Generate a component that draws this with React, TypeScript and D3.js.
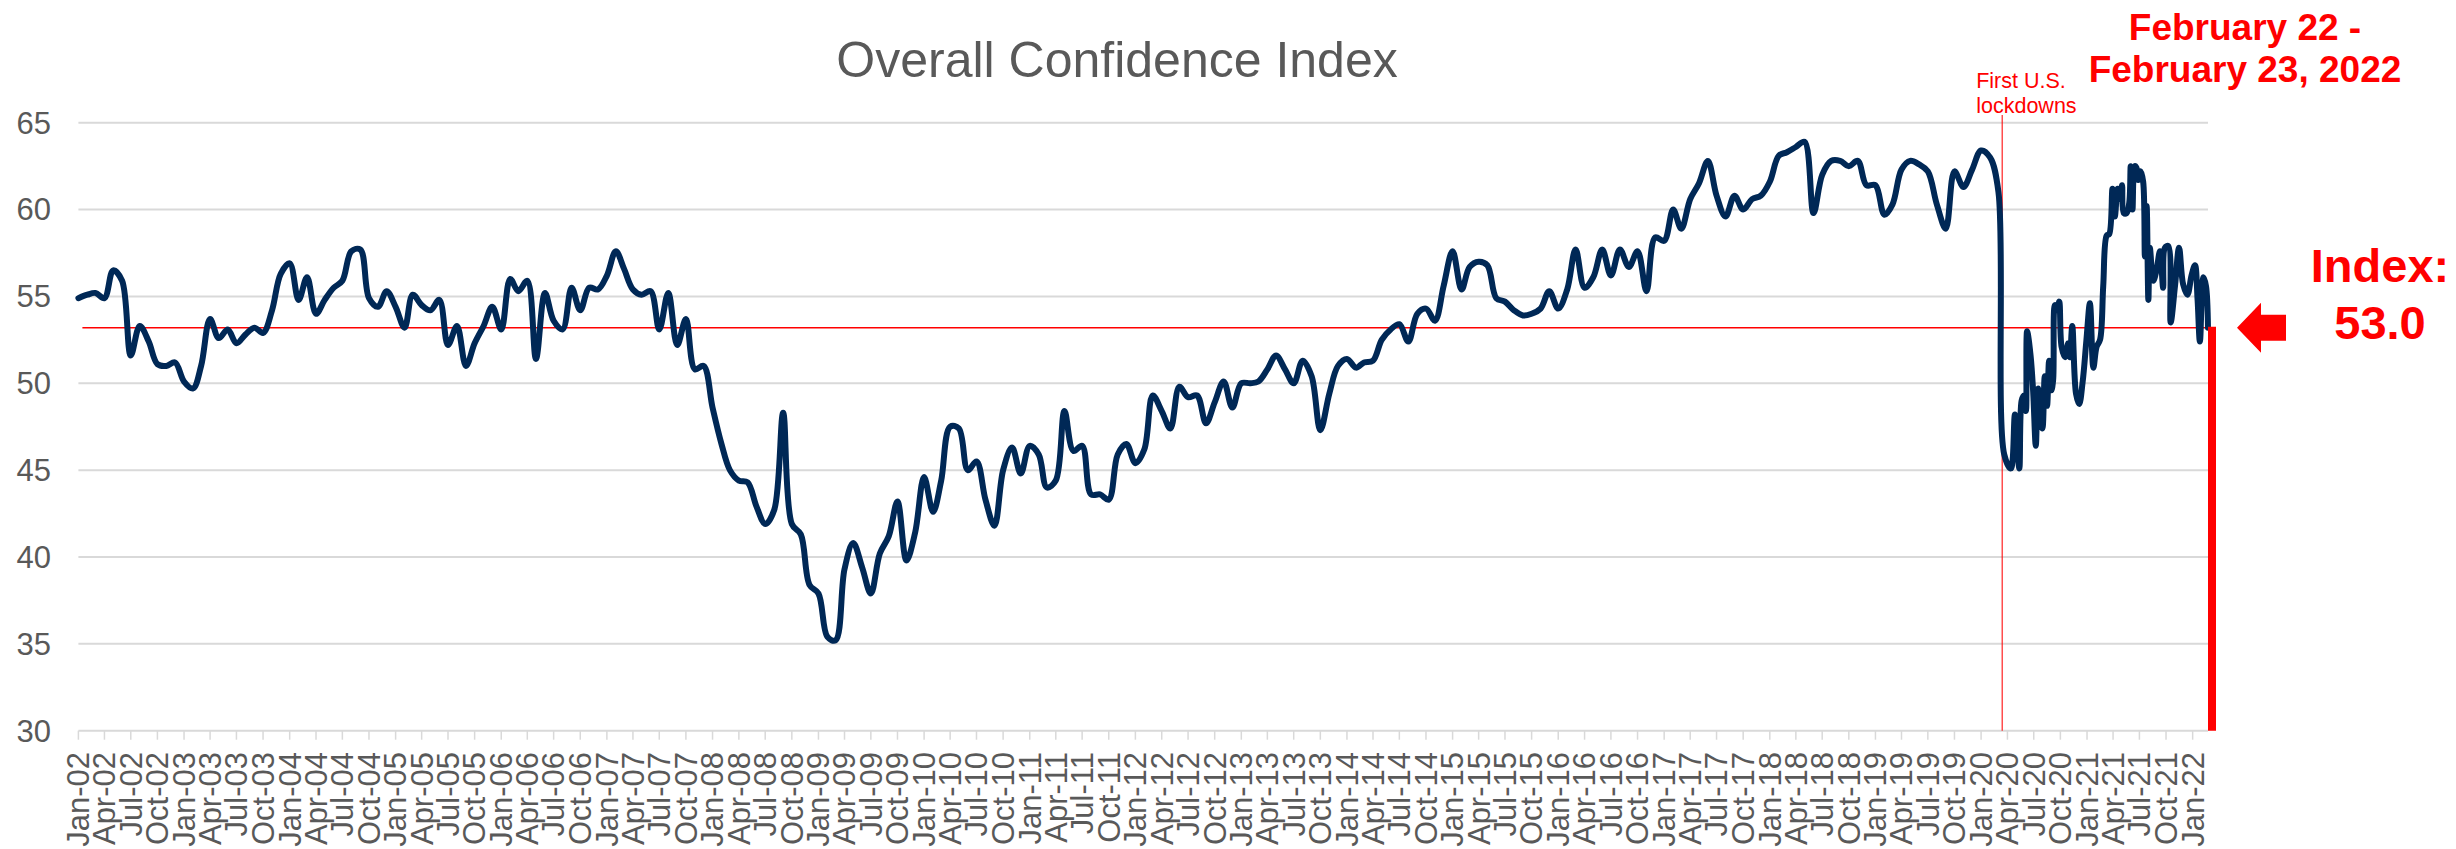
import React from "react";
import * as d3 from "d3";

// monthly index readings, Jan 2002 .. Mar 2020
const monthlyValues = [
  54.9, 55.1, 55.2, 54.9, 56.5, 55.9, 51.6, 53.3, 52.4, 51.1, 51.0, 51.2,
  50.1, 49.7, 51.0, 53.7, 52.6, 53.1, 52.3, 52.8, 53.2, 52.9, 54.2, 56.3,
  56.9, 54.8, 56.1, 54.0, 54.8, 55.5, 55.9, 57.6, 57.7, 54.9, 54.4, 55.3,
  54.4, 53.2, 55.1, 54.5, 54.2, 54.8, 52.2, 53.3, 51.0, 52.3, 53.3, 54.4,
  53.1, 56.0, 55.3, 55.9, 51.4, 55.2, 53.6, 53.1, 55.5, 54.2, 55.5, 55.4,
  56.2, 57.6, 56.6, 55.4, 55.1, 55.3, 53.1, 55.2, 52.2, 53.7, 50.8, 51.0,
  48.6, 46.5, 45.0, 44.4, 44.3, 42.9, 41.9, 42.7, 48.3, 41.9, 41.3, 38.4,
  37.9, 35.4, 35.2, 39.3, 40.8, 39.4, 37.9, 40.2, 41.2, 43.2, 39.8, 41.4,
  44.6, 42.6, 44.4, 47.5, 47.4, 45.0, 45.5, 43.3, 41.8, 45.0, 46.3, 44.8,
  46.4, 45.9, 44.0, 44.4, 48.4, 46.1, 46.4, 43.6, 43.6, 43.3, 45.9, 46.5,
  45.4, 46.2, 49.3, 48.4, 47.4, 49.8, 49.2, 49.3, 47.7, 48.9, 50.1, 48.6,
  50.0, 50.0, 50.1, 50.8, 51.6, 50.8, 50.0, 51.3, 50.4, 47.3, 49.4, 51.0,
  51.4, 50.9, 51.2, 51.3, 52.5, 53.1, 53.4, 52.4, 54.0, 54.3, 53.6, 55.6,
  57.6, 55.4, 56.7, 57.0, 56.8, 54.9, 54.7, 54.2, 53.9, 54.0, 54.3, 55.3,
  54.3, 55.4, 57.7, 55.5, 56.1, 57.7, 56.2, 57.7, 56.7, 57.6, 55.3, 58.4,
  58.2, 60.0, 58.9, 60.6, 61.5, 62.8, 60.8, 59.6, 60.8, 60.0, 60.6, 60.8,
  61.6, 63.1, 63.3, 63.6, 63.9, 59.8, 62.0, 62.8, 62.8, 62.5, 62.8, 61.4,
  61.4, 59.7, 60.3, 62.3, 62.8, 62.6, 62.2, 60.3, 58.9, 62.2, 61.3, 62.3,
  63.4, 63.0, 61.0,
];

// higher frequency readings after the first lockdowns
const weeklyDates = [
  "2020-03-21", "2020-04-13", "2020-04-27", "2020-05-12", "2020-05-20", "2020-05-28",
  "2020-06-04", "2020-06-08", "2020-06-20", "2020-06-29", "2020-07-08", "2020-07-16",
  "2020-07-31", "2020-08-08", "2020-08-16", "2020-08-23", "2020-08-31", "2020-09-06",
  "2020-09-12", "2020-09-20", "2020-09-27", "2020-10-05", "2020-10-17", "2020-10-28",
  "2020-11-03", "2020-11-11", "2020-11-24", "2020-12-05", "2020-12-17", "2020-12-30",
  "2021-01-11", "2021-01-23", "2021-02-03", "2021-02-15", "2021-02-26", "2021-03-10",
  "2021-03-19", "2021-03-30", "2021-04-07", "2021-04-17", "2021-04-25", "2021-05-02",
  "2021-05-08", "2021-05-18", "2021-05-27", "2021-06-01", "2021-06-07", "2021-06-15",
  "2021-06-21", "2021-06-27", "2021-07-05", "2021-07-14", "2021-07-20", "2021-07-26",
  "2021-08-01", "2021-08-06", "2021-08-18", "2021-08-29", "2021-09-10", "2021-09-21",
  "2021-09-27", "2021-10-09", "2021-10-17", "2021-11-01", "2021-11-15", "2021-11-29",
  "2021-12-14", "2021-12-28", "2022-01-09", "2022-01-18", "2022-01-26", "2022-02-07",
  "2022-02-16", "2022-02-23",
];
const weeklyValues = [
  45.9, 45.1, 48.2, 45.1, 49.0, 49.3,
  48.4, 53.0, 51.6, 49.5, 46.4, 49.7,
  47.4, 50.4, 48.7, 51.3, 49.6, 50.2,
  54.5, 54.2, 54.7, 52.1, 51.5, 52.3,
  51.5, 53.3, 49.4, 48.8, 50.1, 52.5,
  54.6, 50.9, 52.1, 52.5, 55.6, 58.5,
  58.6, 61.2, 59.6, 61.2, 60.6, 61.4,
  59.8, 59.8, 60.4, 62.5, 60.0, 62.5,
  62.4, 61.7, 62.2, 61.6, 57.3, 60.2,
  54.8, 57.8, 55.9, 56.5, 57.6, 55.5,
  57.8, 57.9, 53.5, 55.6, 57.8, 55.7,
  55.1, 56.2, 56.8, 54.8, 52.4, 56.1,
  55.6, 53.2,
];

const yTicks = [30, 35, 40, 45, 50, 55, 60, 65];
const latestValue = 53.2;
const latestLabel = "53.0";
const startDate = "2002-01-01";
const endDate = "2022-02-23";
const lockdownDate = "2020-03-14";
const title = "Overall Confidence Index";
const lockdownLines = ["First U.S.", "lockdowns"];
const periodLines = ["February 22 -", "February 23, 2022"];

const W = 2456;
const H = 849;
const FONT = "'Liberation Sans', Arial, Helvetica, sans-serif";
const GREY = "#595959";
const GRID = "#d9d9d9";
const NAVY = "#002856";
const RED = "#ff0000";

const parse = d3.timeParse("%Y-%m-%d");

export default function App() {
  const start = parse(startDate) as Date;
  const end = parse(endDate) as Date;

  const x = d3.scaleTime().domain([start, end]).range([78.4, 2208]);
  const y = d3.scaleLinear().domain([30, 65]).range([730.7, 122.7]);

  const points = [
    ...monthlyValues.map((v, i) => ({ date: new Date(2002, i, 1), value: v })),
    ...weeklyDates.map((d, i) => ({ date: parse(d) as Date, value: weeklyValues[i] })),
  ];

  const line = d3
    .line<{ date: Date; value: number }>()
    .x((d) => x(d.date))
    .y((d) => y(d.value))
    .curve(d3.curveCatmullRom.alpha(0.5));

  const xTicks = d3.timeMonth.every(3)!.range(start, new Date(2022, 0, 2));
  const fmt = d3.timeFormat("%b-%y");

  const [x0, x1] = x.range();
  const yBase = y(30);
  const yRef = y(latestValue);
  const xEnd = x(end);
  const xLock = x(parse(lockdownDate) as Date);

  // arrow pointing at the latest reading
  const ax = xEnd + 29;
  const arrow = [
    [ax, yRef],
    [ax + 24, yRef - 25],
    [ax + 24, yRef - 13],
    [ax + 49, yRef - 13],
    [ax + 49, yRef + 13],
    [ax + 24, yRef + 13],
    [ax + 24, yRef + 25],
  ];

  return (
    <svg
      width={W}
      height={H}
      style={{ position: "absolute", left: 0, top: 0, background: "#fff" }}
      fontFamily={FONT}
    >
      <text x={1117} y={77} textAnchor="middle" fontSize={50} fill={GREY}>
        {title}
      </text>

      {yTicks.map((t) => (
        <g key={t}>
          <line x1={x0} x2={x1} y1={y(t)} y2={y(t)} stroke={GRID} strokeWidth={2} />
          <text x={51} y={y(t)} dy="0.35em" textAnchor="end" fontSize={31} fill={GREY}>
            {t}
          </text>
        </g>
      ))}

      {xTicks.map((d) => (
        <g key={+d}>
          <line x1={x(d)} x2={x(d)} y1={yBase} y2={yBase + 9} stroke={GRID} strokeWidth={1.5} />
          <text
            transform={`translate(${x(d)},752) rotate(-90)`}
            dy="0.35em"
            textAnchor="end"
            fontSize={31}
            fill={GREY}
          >
            {fmt(d)}
          </text>
        </g>
      ))}

      <line x1={x0 + 4} x2={xEnd} y1={yRef} y2={yRef} stroke={RED} strokeWidth={1.4} />
      <line x1={xLock} x2={xLock} y1={115} y2={yBase} stroke={RED} strokeWidth={1.3} opacity={0.8} />

      <path
        d={line(points) ?? ""}
        fill="none"
        stroke={NAVY}
        strokeWidth={6}
        strokeLinejoin="round"
        strokeLinecap="round"
      />

      <line x1={xEnd + 4} x2={xEnd + 4} y1={yRef - 1} y2={yBase} stroke={RED} strokeWidth={8} />
      <polygon points={arrow.map((p) => p.join(",")).join(" ")} fill={RED} />

      <text fill={RED} fontSize={21.5}>
        {lockdownLines.map((s, i) => (
          <tspan key={s} x={xLock - 26} y={87.5 + i * 25.5}>
            {s}
          </tspan>
        ))}
      </text>

      <text fill={RED} fontSize={37} fontWeight="bold" textAnchor="middle">
        {periodLines.map((s, i) => (
          <tspan key={s} x={2245} y={40 + i * 42}>
            {s}
          </tspan>
        ))}
      </text>

      <text fill={RED} fontSize={47} fontWeight="bold" textAnchor="middle">
        <tspan x={2380} y={281.5}>Index:</tspan>
        <tspan x={2380} y={339}>{latestLabel}</tspan>
      </text>
    </svg>
  );
}
